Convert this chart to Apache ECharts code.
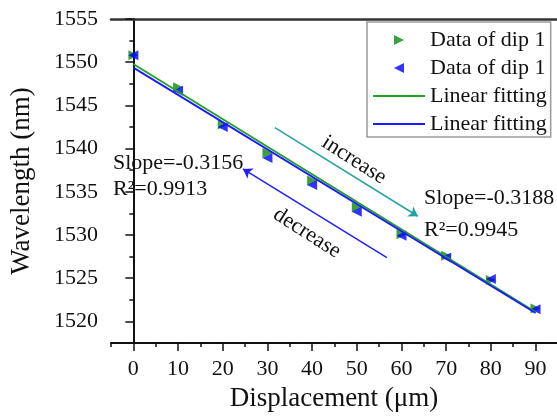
<!DOCTYPE html>
<html>
<head>
<meta charset="utf-8">
<script src="https://cdn.jsdelivr.net/npm/echarts@6/dist/echarts.min.js"></script>
<style>
  html, body { margin: 0; padding: 0; background: #fff; }
  #chart { width: 557px; height: 417px; }
</style>
</head>
<body>
<div id="chart"></div>
<script>
// displacement (um)
var xData = [0, 10, 20, 30, 40, 50, 60, 70, 80, 90];
// dip wavelength (nm)
var dipGreen = [1550.8, 1547.1, 1542.8, 1539.5, 1536.3, 1533.2, 1530.1, 1527.6, 1524.8, 1521.5];
var dipBlue = [1550.8, 1546.7, 1542.5, 1538.9, 1535.8, 1532.7, 1529.9, 1527.4, 1524.9, 1521.4];
// fitted lines, end points
var fitX = [0, 90];
var fitGreen = [1549.8, 1521.1];
var fitBlue = [1549.37, 1520.97];
// tick labels
var xTicks = [0, 10, 20, 30, 40, 50, 60, 70, 80, 90];
var xMinor = [-5, 5, 15, 25, 35, 45, 55, 65, 75, 85];
var yTicks = [1520, 1525, 1530, 1535, 1540, 1545, 1550, 1555];
var yMinor = [1517.5, 1522.5, 1527.5, 1532.5, 1537.5, 1542.5, 1547.5, 1552.5];
// arrows [from, to] in data units
var arrowInc = [[31.67, 1542.44], [63.67, 1532.17]];
var arrowDec = [[56.74, 1527.37], [24.53, 1537.65]];

var FONT = 'Liberation Serif';
var TXT = '#111';
var LINE_ICON = 'path://M0,0L52,0L52,2L0,2Z';

function zip(xs, ys) {
    return xs.map(function (x, i) { return [x, ys[i]]; });
}

var chart = echarts.init(document.getElementById('chart'));

var xBase = { type: 'value', min: -5, max: 94.8, gridIndex: 0, splitLine: { show: false } };
var yBase = { type: 'value', min: 1517.5, max: 1555, gridIndex: 0, splitLine: { show: false } };

var option = {
    animation: false,
    backgroundColor: '#fff',
    grid: { left: 111, top: 19, right: 0, bottom: 69.5 },
    xAxis: [
        Object.assign({}, xBase, {
            position: 'bottom',
            name: 'Displacement (μm)',
            nameLocation: 'middle',
            nameGap: 42,
            nameTextStyle: { fontFamily: FONT, fontSize: 27, color: TXT },
            axisLine: { show: true, lineStyle: { color: '#111', width: 2 } },
            axisTick: { show: true, customValues: xTicks, length: 8, lineStyle: { color: '#111', width: 1.5 } },
            axisLabel: { customValues: xTicks, fontFamily: FONT, fontSize: 22, color: TXT, margin: 15 }
        }),
        Object.assign({}, xBase, {
            position: 'bottom',
            axisLine: { show: false },
            axisTick: { show: true, customValues: xMinor, length: 4, lineStyle: { color: '#111', width: 1.5 } },
            axisLabel: { show: false }
        }),
        Object.assign({}, xBase, {
            position: 'top',
            axisLine: { show: true, lineStyle: { color: '#333', width: 2.5 } },
            axisTick: { show: false },
            axisLabel: { show: false }
        })
    ],
    yAxis: [
        Object.assign({}, yBase, {
            position: 'left',
            name: 'Wavelength (nm)',
            nameLocation: 'middle',
            nameGap: 76,
            nameTextStyle: { fontFamily: FONT, fontSize: 27, color: TXT },
            axisLine: { show: true, lineStyle: { color: '#111', width: 2 } },
            axisTick: { show: true, customValues: yTicks, length: 8, lineStyle: { color: '#111', width: 1.5 } },
            axisLabel: {
                customValues: yTicks, fontFamily: FONT, fontSize: 22, color: TXT, margin: 13,
                formatter: function (v) { return String(v); }
            }
        }),
        Object.assign({}, yBase, {
            position: 'left',
            axisLine: { show: false },
            axisTick: { show: true, customValues: yMinor, length: 4, lineStyle: { color: '#111', width: 1.5 } },
            axisLabel: { show: false }
        })
    ],
    legend: {
        orient: 'vertical',
        left: 367,
        top: 22,
        itemWidth: 52,
        itemHeight: 10,
        itemGap: 6,
        padding: [7, 4, 2, 6],
        borderColor: '#9a9a9a',
        borderWidth: 1.5,
        backgroundColor: '#fff',
        symbolKeepAspect: true,
        textStyle: { fontFamily: FONT, fontSize: 22, color: TXT, lineHeight: 20 },
        formatter: function (n) { return n.trim(); },
        data: [
            { name: 'Data of dip 1' },
            { name: 'Data of dip 1 ' },
            { name: 'Linear fitting', icon: LINE_ICON },
            { name: 'Linear fitting ', icon: LINE_ICON }
        ]
    },
    series: [
        {
            name: 'Data of dip 1',
            type: 'scatter',
            data: zip(xData, dipGreen),
            symbol: 'path://M0,0L10,5L0,10Z',
            symbolSize: 10,
            itemStyle: { color: '#0b8a0b' }
        },
        {
            name: 'Data of dip 1 ',
            type: 'scatter',
            data: zip(xData, dipBlue),
            symbol: 'path://M10,0L0,5L10,10Z',
            symbolSize: 10,
            itemStyle: { color: '#0000ff' }
        },
        {
            name: 'Linear fitting',
            type: 'line',
            data: zip(fitX, fitGreen),
            symbol: 'none',
            lineStyle: { color: '#22a022', width: 1.8 },
            itemStyle: { color: '#22a022' }
        },
        {
            name: 'Linear fitting ',
            type: 'line',
            data: zip(fitX, fitBlue),
            symbol: 'none',
            lineStyle: { color: '#1a1aff', width: 1.8 },
            itemStyle: { color: '#1a1aff' },
            markLine: {
                silent: true,
                symbol: ['none', 'arrow'],
                symbolSize: 9,
                label: { show: false },
                data: [
                    [{ coord: arrowInc[0], lineStyle: { color: '#22a3a3', width: 1.5, type: 'solid' } }, { coord: arrowInc[1] }],
                    [{ coord: arrowDec[0], lineStyle: { color: '#2020ff', width: 1.5, type: 'solid' } }, { coord: arrowDec[1] }]
                ]
            }
        }
    ],
    graphic: [
        { type: 'text', left: 113, top: 152, style: { text: 'Slope=-0.3156', font: '22px "Liberation Serif"', fill: TXT } },
        { type: 'text', left: 113, top: 178, style: { text: 'R²=0.9913', font: '22px "Liberation Serif"', fill: TXT } },
        { type: 'text', left: 424, top: 187, style: { text: 'Slope=-0.3188', font: '22px "Liberation Serif"', fill: TXT } },
        { type: 'text', left: 424, top: 219, style: { text: 'R²=0.9945', font: '22px "Liberation Serif"', fill: TXT } },
        { type: 'text', x: 354, y: 160, rotation: -0.57,
          style: { text: 'increase', font: '22px "Liberation Serif"', fill: TXT, align: 'center', verticalAlign: 'middle' } },
        { type: 'text', x: 307, y: 233, rotation: -0.57,
          style: { text: 'decrease', font: '22px "Liberation Serif"', fill: TXT, align: 'center', verticalAlign: 'middle' } }
    ]
};

chart.setOption(option);
</script>
</body>
</html>
